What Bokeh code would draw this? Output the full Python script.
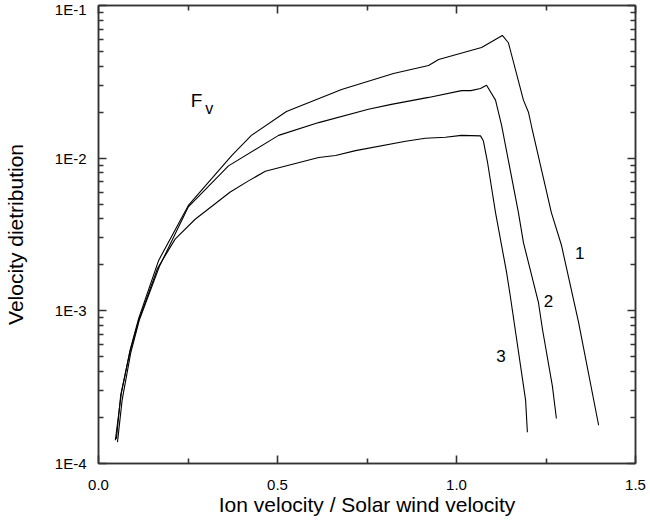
from bokeh.plotting import figure
from bokeh.models import Range1d, LinearAxis, LogAxis, FixedTicker, CustomJSTickFormatter, Label
from bokeh.embed import file_html
from bokeh.resources import INLINE

# Curve 1 (top)
c1_x = [0.047, 0.064, 0.088, 0.112, 0.168, 0.251, 0.372, 0.427, 0.525, 0.679, 0.824, 0.922, 0.95,
        1.07, 1.128, 1.145, 1.187, 1.201, 1.21, 1.265, 1.293, 1.341, 1.397]
c1_y = [1.42e-4, 2.9e-4, 5.5e-4, 8.9e-4, 2.14e-3, 4.9e-3, 1.04e-2, 1.41e-2, 2.02e-2, 2.82e-2, 3.59e-2,
        4.05e-2, 4.43e-2, 5.3e-2, 6.37e-2, 5.7e-2, 2.4e-2, 2.0e-2, 1.6e-2, 4.4e-3, 2.7e-3, 8.4e-4, 1.78e-4]

# Curve 2 (middle)
c2_x = [0.053, 0.066, 0.09, 0.114, 0.17, 0.251, 0.363, 0.503, 0.615, 0.754, 0.818, 0.922, 1.014, 1.04,
        1.067, 1.084, 1.109, 1.126, 1.173, 1.187, 1.229, 1.24, 1.268, 1.279]
c2_y = [1.38e-4, 2.6e-4, 5.3e-4, 8.7e-4, 1.95e-3, 4.8e-3, 8.9e-3, 1.41e-2, 1.71e-2, 2.09e-2, 2.25e-2,
        2.5e-2, 2.77e-2, 2.77e-2, 2.86e-2, 3.0e-2, 2.4e-2, 1.64e-2, 4.4e-3, 2.8e-3, 1.13e-3, 7.6e-4,
        3.2e-4, 1.97e-4]

# Curve 3 (bottom)
c3_x = [0.05, 0.062, 0.088, 0.112, 0.165, 0.214, 0.27, 0.368, 0.419, 0.466, 0.615, 0.662, 0.718, 0.858,
        0.913, 0.969, 1.014, 1.067, 1.075, 1.087, 1.109, 1.14, 1.15, 1.193, 1.198]
c3_y = [1.45e-4, 2.8e-4, 5.4e-4, 8.6e-4, 1.9e-3, 2.95e-3, 3.98e-3, 6.0e-3, 7.1e-3, 8.2e-3, 1.01e-2,
        1.04e-2, 1.12e-2, 1.29e-2, 1.35e-2, 1.37e-2, 1.41e-2, 1.4e-2, 1.3e-2, 9.3e-3, 4.4e-3, 1.78e-3,
        1.26e-3, 2.6e-4, 1.6e-4]

x_ticks = [0.0, 0.5, 1.0, 1.5]
x_minor = [0.25, 0.75, 1.25]
y_ticks = [1e-4, 1e-3, 1e-2, 1e-1]
y_minor = [k * 10.0 ** e for e in (-4, -3, -2) for k in range(2, 10)]

X0, X1 = 0.0, 1.5
Y0, Y1 = 1e-4, 1e-1
FW, FH = 537, 458

FONT = "Liberation Sans"
AX = "#333333"

p = figure(frame_width=FW, frame_height=FH,
           x_range=Range1d(X0, X1), y_range=Range1d(Y0, Y1), y_axis_type="log",
           output_backend="svg", toolbar_location=None,
           min_border_left=92, min_border_right=11, min_border_top=5, min_border_bottom=58)
p.grid.visible = False
p.outline_line_color = AX
p.outline_line_width = 1.5
p.background_fill_color = "white"
p.border_fill_color = "white"

xt = FixedTicker(ticks=x_ticks, minor_ticks=x_minor)
yt = FixedTicker(ticks=y_ticks, minor_ticks=y_minor)
yfmt = CustomJSTickFormatter(code="return '1E' + Math.round(Math.log10(tick)).toString();")
xfmt = CustomJSTickFormatter(code="return tick.toFixed(1);")
blank = CustomJSTickFormatter(code="return '';")


def style(ax):
    ax.axis_line_color = AX
    ax.axis_line_width = 1.5
    ax.major_tick_line_color = AX
    ax.minor_tick_line_color = AX
    ax.major_tick_line_width = 1.6
    ax.minor_tick_line_width = 1.6
    ax.major_tick_in = 8
    ax.major_tick_out = 0
    ax.minor_tick_in = 5
    ax.minor_tick_out = 0
    ax.major_label_text_font = FONT
    ax.major_label_text_font_size = "15px"
    ax.major_label_text_color = "black"
    ax.axis_label_text_font = FONT
    ax.axis_label_text_font_size = "21px"
    ax.axis_label_text_font_style = "normal"
    ax.axis_label_text_color = "black"


xa = p.xaxis[0]
xa.ticker = xt
xa.formatter = xfmt
style(xa)
xa.axis_label = "Ion velocity / Solar wind velocity"
xa.major_label_standoff = 16
xa.axis_label_standoff = 0

ya = p.yaxis[0]
ya.ticker = yt
ya.formatter = yfmt
style(ya)
ya.axis_label = "Velocity dietribution"
ya.major_label_standoff = 12
ya.axis_label_standoff = 25

top = LinearAxis(ticker=FixedTicker(ticks=x_ticks, minor_ticks=x_minor), formatter=blank)
style(top)
top.major_label_standoff = 0
p.add_layout(top, "above")

right = LogAxis(ticker=FixedTicker(ticks=y_ticks, minor_ticks=y_minor), formatter=blank)
style(right)
right.major_label_standoff = 0
p.add_layout(right, "right")

for xs, ys in ((c1_x, c1_y), (c2_x, c2_y), (c3_x, c3_y)):
    p.line(xs, ys, line_color="black", line_width=1.1)

for t, x, y in (("1", 1.344, 2.38e-3), ("2", 1.257, 1.16e-3), ("3", 1.124, 5.07e-4)):
    p.add_layout(Label(x=x, y=y, text=t, text_font=FONT, text_font_size="17px",
                       text_align="center", text_baseline="middle", text_color="black"))

p.add_layout(Label(x=0.258, y=0.0239, text="F", text_font=FONT, text_font_size="19px",
                   text_align="left", text_baseline="alphabetic", text_color="black"))
p.add_layout(Label(x=0.298, y=0.0212, text="v", text_font=FONT, text_font_size="16px",
                   text_align="left", text_baseline="alphabetic", text_color="black"))

open("out.html", "w").write(file_html(p, INLINE))
